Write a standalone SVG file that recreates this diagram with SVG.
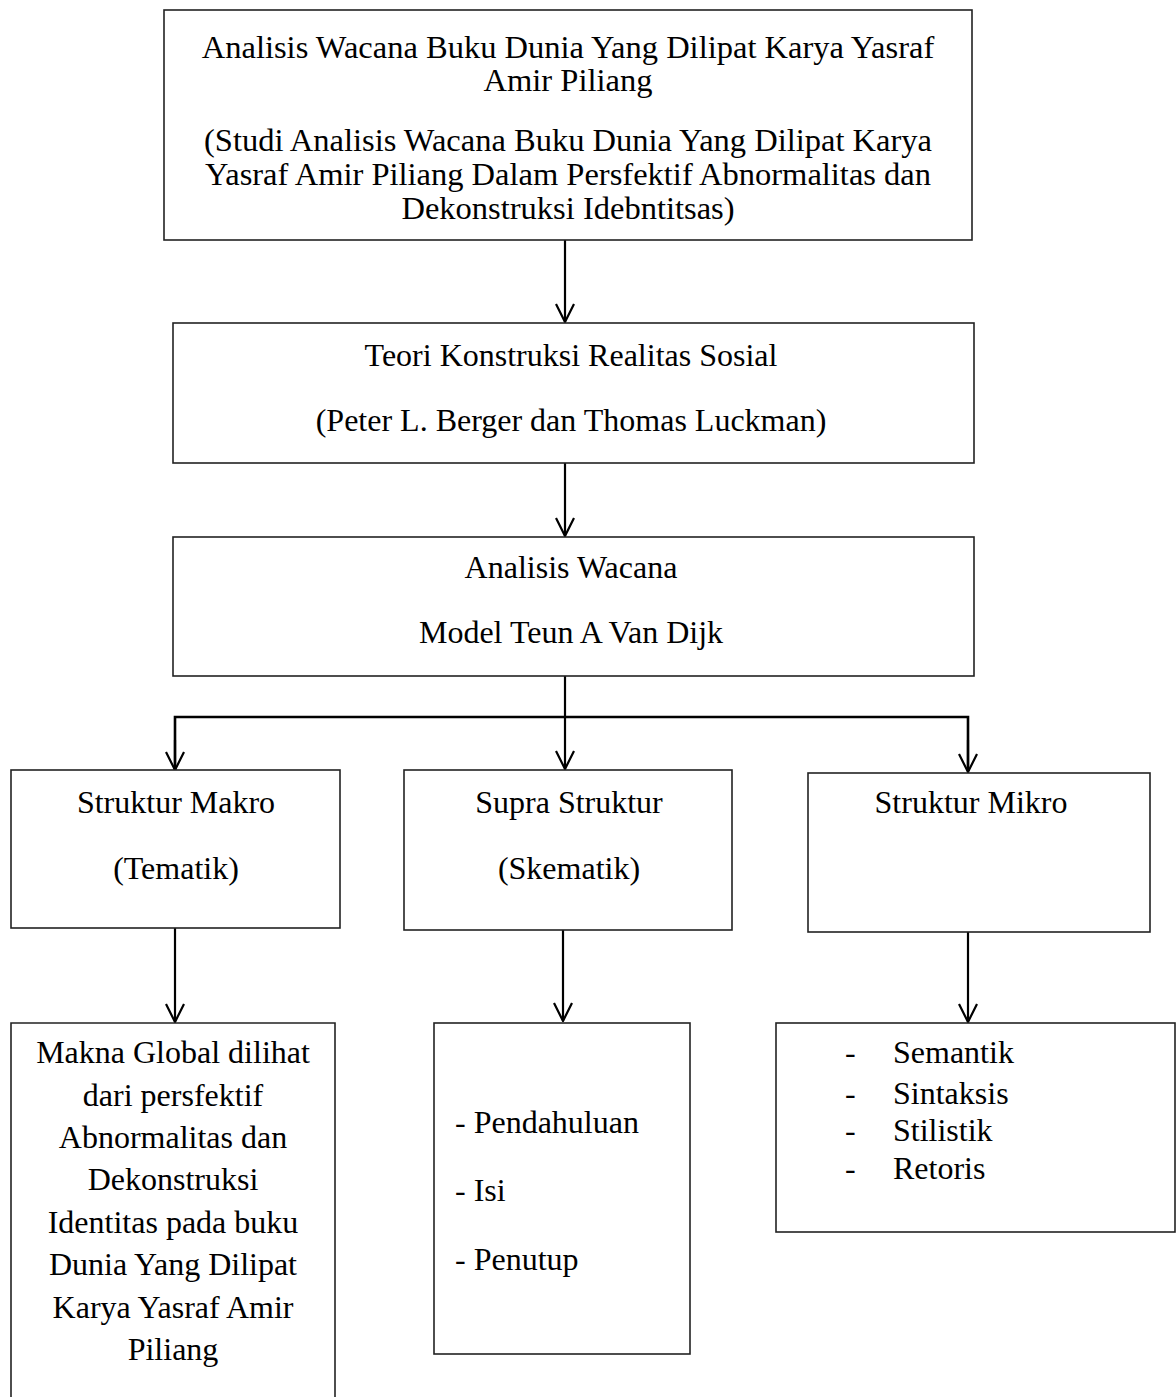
<svg xmlns="http://www.w3.org/2000/svg" width="1176" height="1397" viewBox="0 0 1176 1397">
<style>
.box{fill:#fff;stroke:#222;stroke-width:1.6}
text{font-family:'Liberation Serif','Times New Roman',Times,serif;font-size:32px;fill:#000}
.top{font-size:32.5px}
.c{text-anchor:middle}
.conn{fill:none;stroke:#000;stroke-width:2.2}
</style>
<defs>
<marker id="ah" viewBox="0 0 20 20" refX="19" refY="10" markerWidth="20" markerHeight="20" markerUnits="userSpaceOnUse" orient="auto">
<path d="M1,1 L19,10 L1,19" fill="none" stroke="#000" stroke-width="2.2"/>
</marker>
</defs>
<rect width="1176" height="1397" fill="#fff"/>
<g id="connectors">
<line class="conn" x1="565" y1="240" x2="565" y2="322" marker-end="url(#ah)"/>
<line class="conn" x1="565" y1="463" x2="565" y2="536" marker-end="url(#ah)"/>
<line class="conn" x1="565" y1="676" x2="565" y2="769" marker-end="url(#ah)"/>
<polyline class="conn" points="175,770 175,717 968,717 968,771" style="stroke-width:2.6"/>
<line class="conn" x1="175" y1="740" x2="175" y2="770" marker-end="url(#ah)"/>
<line class="conn" x1="968" y1="740" x2="968" y2="772" marker-end="url(#ah)"/>
<line class="conn" x1="175" y1="928" x2="175" y2="1022" marker-end="url(#ah)"/>
<line class="conn" x1="563" y1="930" x2="563" y2="1021" marker-end="url(#ah)"/>
<line class="conn" x1="968" y1="932" x2="968" y2="1022" marker-end="url(#ah)"/>
</g>
<g id="n-judul">
<rect class="box" x="164" y="10" width="808" height="230"/>
<text class="c top" x="568" y="58">Analisis Wacana Buku Dunia Yang Dilipat Karya Yasraf</text>
<text class="c top" x="568" y="91">Amir Piliang</text>
<text class="c top" x="568" y="151">(Studi Analisis Wacana Buku Dunia Yang Dilipat Karya</text>
<text class="c top" x="568" y="185">Yasraf Amir Piliang Dalam Persfektif Abnormalitas dan</text>
<text class="c top" x="568" y="219">Dekonstruksi Idebntitsas)</text>
</g>
<g id="n-teori">
<rect class="box" x="173" y="323" width="801" height="140"/>
<text class="c" x="571" y="366">Teori Konstruksi Realitas Sosial</text>
<text class="c" x="571" y="431">(Peter L. Berger dan Thomas Luckman)</text>
</g>
<g id="n-analisis">
<rect class="box" x="173" y="537" width="801" height="139"/>
<text class="c" x="571" y="578">Analisis Wacana</text>
<text class="c" x="571" y="643">Model Teun A Van Dijk</text>
</g>
<g id="n-makro">
<rect class="box" x="11" y="770" width="329" height="158"/>
<text class="c" x="176" y="813">Struktur Makro</text>
<text class="c" x="176" y="879">(Tematik)</text>
</g>
<g id="n-supra">
<rect class="box" x="404" y="770" width="328" height="160"/>
<text class="c" x="569" y="813">Supra Struktur</text>
<text class="c" x="569" y="879">(Skematik)</text>
</g>
<g id="n-mikro">
<rect class="box" x="808" y="773" width="342" height="159"/>
<text class="c" x="971" y="813">Struktur Mikro</text>
</g>
<g id="n-makna">
<path class="box" d="M11,1400 L11,1023 L335,1023 L335,1400"/>
<text class="c" x="173" y="1063">Makna Global dilihat</text>
<text class="c" x="173" y="1106">dari persfektif</text>
<text class="c" x="173" y="1148">Abnormalitas dan</text>
<text class="c" x="173" y="1190">Dekonstruksi</text>
<text class="c" x="173" y="1233">Identitas pada buku</text>
<text class="c" x="173" y="1275">Dunia Yang Dilipat</text>
<text class="c" x="173" y="1318">Karya Yasraf Amir</text>
<text class="c" x="173" y="1360">Piliang</text>
</g>
<g id="n-skema">
<rect class="box" x="434" y="1023" width="256" height="331"/>
<text x="455" y="1133">- Pendahuluan</text>
<text x="455" y="1201">- Isi</text>
<text x="455" y="1270">- Penutup</text>
</g>
<g id="n-mikro-list">
<rect class="box" x="776" y="1023" width="399" height="209"/>
<text x="845" y="1063">-</text>
<text x="893" y="1063">Semantik</text>
<text x="845" y="1104">-</text>
<text x="893" y="1104">Sintaksis</text>
<text x="845" y="1141">-</text>
<text x="893" y="1141">Stilistik</text>
<text x="845" y="1179">-</text>
<text x="893" y="1179">Retoris</text>
</g>
</svg>
